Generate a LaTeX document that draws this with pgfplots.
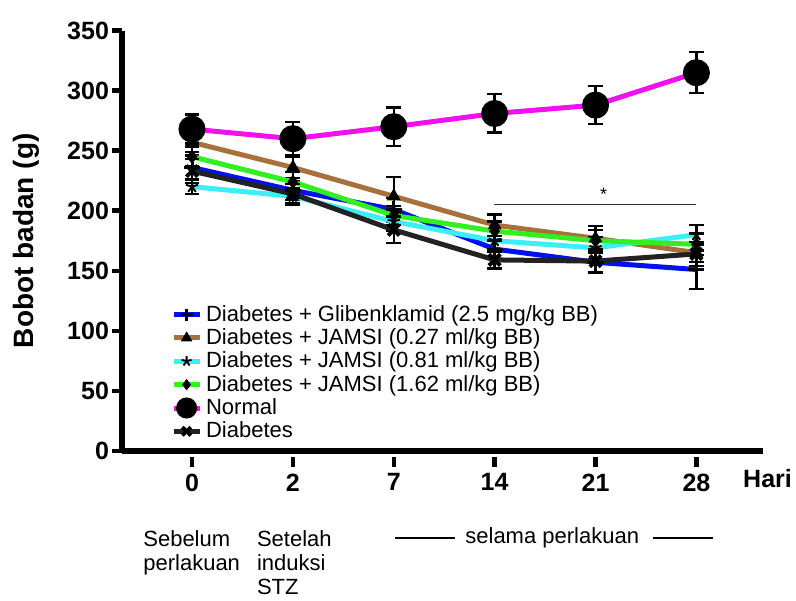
\documentclass[border=0pt]{standalone}
\usepackage{pgfplots}
\pgfplotsset{compat=1.18}
\usepackage{fontspec}
\setmainfont{Liberation Sans}
\definecolor{cblue}{HTML}{0010F0}
\definecolor{cbrown}{HTML}{A8713C}
\definecolor{ccyan}{HTML}{3CEEF5}
\definecolor{cgreen}{HTML}{30F020}
\definecolor{cmag}{HTML}{F010F0}
\definecolor{cblack}{HTML}{222222}

\begin{document}
\begin{tikzpicture}
\begin{axis}[
    scale only axis,
    width=320.5pt, height=210pt,
    xmin=-0.694, xmax=5.66,
    ymin=0, ymax=350,
    axis lines=left,
    axis line style={line width=2.8pt, -},
    xtick={0,...,5},
    xticklabels={0,2,7,14,21,28},
    ytick={0,50,...,350},
    tick align=outside,
    major tick length=5pt,
    tick style={line width=2.2pt, black},
    x tick style={yshift=-3pt},
    x tick label style={yshift=-3pt},
    y tick label style={xshift=2pt},
    tick label style={font=\fontsize{12.5}{14}\selectfont\bfseries},
    /pgf/number format/assume math mode=true,
    ylabel={\bfseries Bobot badan (g)},
    ylabel style={font=\fontsize{14}{16}\selectfont,
      at={(axis description cs:-0.118,0.5)}, anchor=south},
    clip=false,
    every axis plot/.append style={line width=2.5pt},
    error bars/error bar style={line width=1.2pt, black},
    error bars/error mark options={rotate=90, mark size=3.7pt, line width=1.2pt, black},
    legend style={at={(rel axis cs:0.076,0.357)}, anchor=north west,
      draw=none, fill=none, inner sep=0pt,
      font=\fontsize{11}{12}\selectfont, row sep=-1.8pt,
      /tikz/every even column/.append style={column sep=3pt}},
    legend cell align=left,
    legend image code/.code={
      \draw[mark repeat=2, mark phase=2] plot coordinates {(0pt,0pt)(6.5pt,0pt)(13pt,0pt)};},
]
\addplot[cblue, mark=+, mark size=4pt, mark options={black, line width=1.5pt}, forget plot,
  error bars/.cd, y dir=both, y explicit] table[x=x, y=y, y error=e] {
x y e
0 236 10
1 217 8
2 201 10
3 168 8
4 157 8
5 151 16
};
\addplot[cbrown, mark=triangle*, mark size=3.5pt, mark options={black, fill=black, line width=0.5pt}, forget plot,
  error bars/.cd, y dir=both, y explicit] table[x=x, y=y, y error=e] {
x y e
0 257 8
1 236 9
2 212 16
3 188 9
4 177 10
5 165 8
};
\addplot[ccyan, mark=star, mark size=3.2pt, mark options={black, line width=1pt}, forget plot,
  error bars/.cd, y dir=both, y explicit] table[x=x, y=y, y error=e] {
x y e
0 220 6
1 212 7
2 191 8
3 175 8
4 169 9
5 180 8
};
\addplot[cgreen, mark=diamond*, mark size=3.2pt, mark options={black, fill=black, line width=0.5pt}, forget plot,
  error bars/.cd, y dir=both, y explicit] table[x=x, y=y, y error=e] {
x y e
0 245 8
1 224 8
2 196 8
3 183 8
4 175 9
5 172 9
};
\addplot[cmag, mark=*, mark size=5.5pt, mark options={black, fill=black}, forget plot,
  error bars/.cd, y dir=both, y explicit] table[x=x, y=y, y error=e] {
x y e
0 268 12
1 260 14
2 270 16
3 281 16
4 288 16
5 315 17
};
\addplot[cblack, mark=x, mark size=4pt, mark options={black, line width=2pt}, forget plot,
  error bars/.cd, y dir=both, y explicit] table[x=x, y=y, y error=e] {
x y e
0 233 10
1 214 8
2 184 11
3 159 7
4 158 10
5 164 10
};

\addlegendimage{cblue, line width=2.5pt, mark=+, mark size=3pt, mark options={black, line width=1.5pt}}
\addlegendentry{Diabetes + Glibenklamid (2.5 mg/kg BB)}
\addlegendimage{cbrown, line width=2.5pt, mark=triangle*, mark size=3pt, mark options={black, fill=black, line width=0.3pt}}
\addlegendentry{Diabetes + JAMSI (0.27 ml/kg BB)}
\addlegendimage{ccyan, line width=2.5pt, mark=star, mark size=2.6pt, mark options={black, line width=0.9pt}}
\addlegendentry{Diabetes + JAMSI (0.81 ml/kg BB)}
\addlegendimage{cgreen, line width=2.5pt, mark=diamond*, mark size=2.6pt, mark options={black, fill=black, line width=0.3pt}}
\addlegendentry{Diabetes + JAMSI (1.62 ml/kg BB)}
\addlegendimage{cmag, line width=2.5pt, mark=*, mark size=4pt, mark options={black, fill=black}}
\addlegendentry{Normal}
\addlegendimage{cblack, line width=2.5pt, mark=x, mark size=3pt, mark options={black, line width=1.8pt}}
\addlegendentry{Diabetes}

% significance bar
\draw[line width=0.6pt, black!80] (axis cs:2.99,205) -- (axis cs:5.0,205);
\node[font=\fontsize{9}{10}\selectfont] at (axis cs:4.08,214) {*};

% axis unit and phase annotations
\node[anchor=base west, inner sep=0pt, font=\fontsize{12.5}{14}\selectfont\bfseries]
  at (axis cs:5.46,-30.3) {Hari};
\node[anchor=north west, align=left, inner sep=0pt, font=\fontsize{11}{12}\selectfont]
  at (axis cs:-0.486,-66) {Sebelum\\perlakuan};
\node[anchor=north west, align=left, inner sep=0pt, font=\fontsize{11}{12}\selectfont]
  at (axis cs:0.641,-66) {Setelah\\induksi\\STZ};
\node[anchor=base west, inner sep=0pt, font=\fontsize{11}{12}\selectfont]
  at (axis cs:2.706,-77) {selama perlakuan};
\draw[line width=0.9pt] (axis cs:2.01,-72.8) -- (axis cs:2.61,-72.8);
\draw[line width=0.9pt] (axis cs:4.57,-72.8) -- (axis cs:5.16,-72.8);

\path (rel axis cs:-0.1903,-0.3555) rectangle (rel axis cs:1.0515,1.0731);
\end{axis}
\end{tikzpicture}
\end{document}
